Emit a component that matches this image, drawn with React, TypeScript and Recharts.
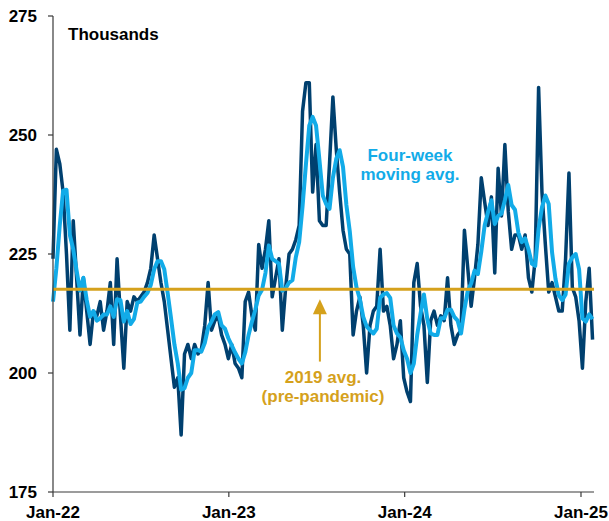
import React from 'react';
import { LineChart, Line, XAxis, YAxis, ReferenceLine } from 'recharts';

// weekly initial claims, thousands (weeks ending Saturday, first week = Jan 1 2022)
const WEEKS_2022 = [
  224, 247, 244, 238, 225, 209, 232, 220, 208, 220, 213, 206, 213, 212, 215, 209, 213, 219, 206, 224,
  212, 201, 215, 213, 216, 215, 216, 217, 219, 222, 229, 224, 219, 215, 209, 203, 197, 199, 187, 204,
  206, 203, 206, 204, 205, 210, 219, 209, 211, 212, 208, 206, 203,
];
const WEEKS_2023 = [
  206, 202, 201, 199, 215, 217, 212, 209, 227, 222, 226, 232, 216, 220, 224, 209, 218, 225, 226, 228,
  231, 255, 261, 261, 238, 248, 232, 231, 231, 244, 258, 247, 238, 230, 226, 225, 208, 213, 216, 210,
  200, 210, 213, 214, 226, 213, 214, 210, 203, 206, 211, 199,
];
const WEEKS_2024 = [
  196, 194, 219, 223, 214, 210, 198, 211, 213, 210, 212, 211, 220, 210, 206, 208, 209, 230, 222, 214,
  220, 227, 241, 236, 231, 237, 221, 243, 233, 248, 234, 226, 229, 229, 226, 229, 220, 217, 224, 260,
  238, 227, 217, 219, 216, 213, 213, 224, 242, 218, 216, 211,
];
const WEEKS_2025 = [201, 215, 222, 207];

// four-week moving average, thousands
const AVG_2022 = [
  215, 222, 231, 238.3, 238.5, 229, 226, 221.5, 217.3, 220, 215.3, 211.8, 213, 211, 211.5, 212.3, 212.3, 214, 211.8, 215.5,
  215.3, 210.8, 213, 210.3, 211.3, 214.8, 215, 216, 216.8, 218.5, 221.8, 223.5, 223.5, 221.8, 216.8, 211.5, 206, 202, 196.5, 196.8,
  199, 200, 204.8, 204.8, 204.5, 206.3, 209.5, 210.8, 212.3, 212.8, 210, 209.3, 207.3,
];
const AVG_2023 = [
  205.8, 204.3, 203, 202, 204.3, 208, 210.8, 213.3, 216.3, 217.5, 221, 226.8, 224, 223.5, 223, 217.3, 217.8, 219, 219.5, 224.3,
  227.5, 235, 243.8, 252, 253.8, 252, 244.8, 237.3, 235.5, 234.5, 241, 245, 246.8, 243.3, 235.3, 229.8, 222.3, 218, 215.5, 211.8,
  209.8, 209, 208.3, 209.3, 215.8, 216.5, 216.8, 215.8, 210, 208.3, 207.5, 204.8,
];
const AVG_2024 = [
  203, 200, 202, 208, 212.5, 216.5, 211.3, 208.3, 208, 208, 211.5, 211.5, 213.3, 213.3, 211.8, 211, 208.3, 213.3, 217.3, 218.8,
  221.5, 220.8, 225.5, 231, 233.8, 236.3, 231.3, 233, 233.5, 236.3, 239.5, 235.3, 234.3, 229.5, 227.5, 228.3, 226, 223, 222.5, 230.3,
  234.8, 237.3, 235.5, 225.3, 219.8, 216.3, 215.3, 216.5, 223, 224.3, 225, 221.8,
];
const AVG_2025 = [211.5, 210.8, 212.3, 211.3];

const AVG_2019 = 217.6;

// days since Jan 1 2022
const YEAR_TICKS = [0, 365, 730, 1096];
const TICK_LABELS = ['Jan-22', 'Jan-23', 'Jan-24', 'Jan-25'];
const Y_TICKS = [175, 200, 225, 250, 275];

const NAVY = '#00406F';
const CYAN = '#12ABE8';
const GOLD = '#D5A11C';
const FONT = '"Liberation Sans", Arial, sans-serif';

const weekly = [...WEEKS_2022, ...WEEKS_2023, ...WEEKS_2024, ...WEEKS_2025];
const movingAvg = [...AVG_2022, ...AVG_2023, ...AVG_2024, ...AVG_2025];
const data = weekly.map((v, i) => ({ day: i * 7, weekly: v, avg: movingAvg[i] }));

const ArrowShape = (props: any) => {
  const { x1, y1, y2 } = props;
  const top = Math.min(y1, y2);
  const bottom = Math.max(y1, y2);
  return (
    <g>
      <line x1={x1} x2={x1} y1={bottom} y2={top + 12} stroke={GOLD} strokeWidth={2} />
      <polygon points={`${x1 - 7},${top + 15} ${x1 + 7},${top + 15} ${x1},${top}`} fill={GOLD} />
    </g>
  );
};

const tickStyle = { fontFamily: FONT, fontSize: 17, fontWeight: 700, fill: '#000' };

export default function App() {
  return (
    <div style={{ position: 'absolute', left: 0, top: 0, width: 609, height: 521, background: '#fff' }}>
      <LineChart width={609} height={521} data={data} margin={{ top: 16, right: 15, bottom: 0, left: 0 }}>
        <XAxis
          dataKey="day"
          type="number"
          domain={[0, 1123]}
          ticks={YEAR_TICKS}
          tickFormatter={(d: number) => TICK_LABELS[YEAR_TICKS.indexOf(d)]}
          height={29}
          tickSize={5}
          tickMargin={9}
          stroke="#3a3a3a"
          strokeWidth={1.2}
          tick={tickStyle}
        />
        <YAxis
          domain={[175, 275]}
          ticks={Y_TICKS}
          width={53}
          tickSize={5}
          tickMargin={11}
          stroke="#3a3a3a"
          strokeWidth={1.2}
          tick={tickStyle}
          allowDataOverflow
        />
        <Line
          type="linear"
          dataKey="weekly"
          stroke={NAVY}
          strokeWidth={3.5}
          dot={false}
          strokeLinejoin="round"
          isAnimationActive={false}
        />
        <Line
          type="linear"
          dataKey="avg"
          stroke={CYAN}
          strokeWidth={4}
          dot={false}
          strokeLinejoin="round"
          isAnimationActive={false}
        />
        <ReferenceLine y={AVG_2019} stroke={GOLD} strokeWidth={3} />
        <ReferenceLine
          segment={[
            { x: 554, y: 202.4 },
            { x: 554, y: 215.5 },
          ]}
          shape={ArrowShape}
        />
      </LineChart>
      <svg
        width={609}
        height={521}
        style={{ position: 'absolute', left: 0, top: 0, pointerEvents: 'none' }}
        fontFamily={FONT}
        fontWeight={700}
        fontSize={17}
      >
        <text x={68} y={40} fill="#000">Thousands</text>
        <text x={410} y={161} fill={CYAN} textAnchor="middle">Four-week</text>
        <text x={410} y={180} fill={CYAN} textAnchor="middle">moving avg.</text>
        <text x={323} y={383} fill={GOLD} textAnchor="middle">2019 avg.</text>
        <text x={323} y={402} fill={GOLD} textAnchor="middle">(pre-pandemic)</text>
      </svg>
    </div>
  );
}
